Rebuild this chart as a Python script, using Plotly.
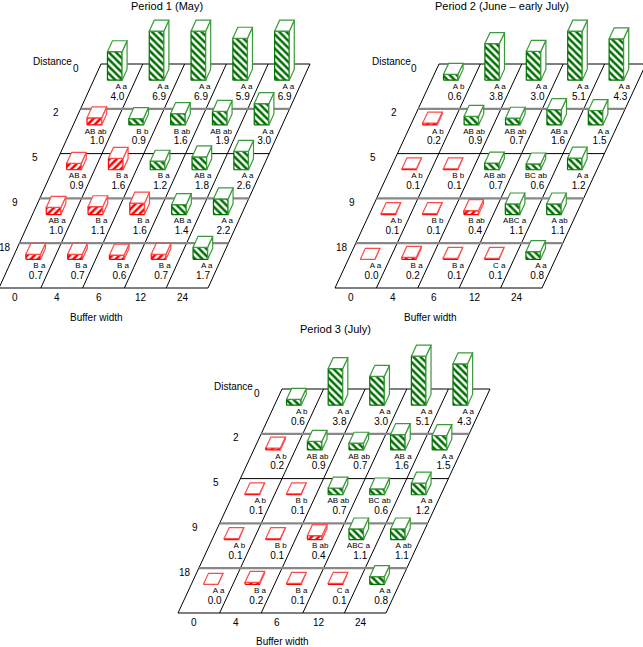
import plotly.graph_objects as go

# categories
buffer_width = [0, 4, 6, 12, 24]
distance = [0, 2, 5, 9, 18]

# Period 1 (May): rows = distance, cols = buffer width
p1_values = [
    [4.0, 6.9, 6.9, 5.9, 6.9],
    [1.0, 0.9, 1.6, 1.9, 3.0],
    [0.9, 1.6, 1.2, 1.8, 2.6],
    [1.0, 1.1, 1.6, 1.4, 2.2],
    [0.7, 0.7, 0.6, 0.7, 1.7],
]
p1_letters = [
    ["A a", "A a", "A a", "A a", "A a"],
    ["AB ab", "B b", "B ab", "AB ab", "A a"],
    ["AB a", "B a", "B a", "AB a", "A a"],
    ["AB a", "B a", "B a", "AB a", "A a"],
    ["B a", "B a", "B a", "B a", "A a"],
]

# Period 2 (June - early July)
p2_values = [
    [0.6, 3.8, 3.0, 5.1, 4.3],
    [0.2, 0.9, 0.7, 1.6, 1.5],
    [0.1, 0.1, 0.7, 0.6, 1.2],
    [0.1, 0.1, 0.4, 1.1, 1.1],
    [0.0, 0.2, 0.1, 0.1, 0.8],
]
p2_letters = [
    ["A b", "A a", "A a", "A a", "A a"],
    ["A b", "AB ab", "AB ab", "AB a", "A a"],
    ["A b", "B b", "AB ab", "BC ab", "A a"],
    ["A b", "B b", "B ab", "ABC a", "A ab"],
    ["A a", "B a", "B a", "C a", "A a"],
]

# Period 3 (July)
p3_values = [
    [0.6, 3.8, 3.0, 5.1, 4.3],
    [0.2, 0.9, 0.7, 1.6, 1.5],
    [0.1, 0.1, 0.7, 0.6, 1.2],
    [0.1, 0.1, 0.4, 1.1, 1.1],
    [0.0, 0.2, 0.1, 0.1, 0.8],
]
p3_letters = [
    ["A b", "A a", "A a", "A a", "A a"],
    ["A b", "AB ab", "AB ab", "AB a", "A a"],
    ["A b", "B b", "AB ab", "BC ab", "A a"],
    ["A b", "B b", "B ab", "ABC a", "A ab"],
    ["A a", "B a", "B a", "C a", "A a"],
]

FONT = "Liberation Sans, Arial, sans-serif"
ROW_H = 44.8
GREEN, GREEN_LT = "#007000", "#3a9a3a"
RED, RED_LT = "#ff0000", "#ff4a4a"

panels = [
    dict(title="Period 1 (May)", values=p1_values, letters=p1_letters,
         ox=101, oy=64, cw=41.8, sh=20.4, bx=0.33, title_xy=(167, 6), buf_xy=(96, 317)),
    dict(title="Period 2 (June – early July)", values=p2_values, letters=p2_letters,
         ox=439, oy=64, cw=41.4, sh=20.8, bx=0.29, title_xy=(502, 6), buf_xy=(430, 317)),
    dict(title="Period 3 (July)", values=p3_values, letters=p3_letters,
         ox=282, oy=389, cw=41.6, sh=20.8, bx=0.29, title_xy=(335, 329), buf_xy=(282, 641)),
]


def to_xy(p, X, D, Z=0.0):
    # oblique projection: X = buffer column, D = distance row (depth), Z = value
    return p["ox"] + X * p["cw"] - D * p["sh"], p["oy"] + D * ROW_H - Z * p["zs"]


def poly(p, pts):
    xs, ys = [], []
    for X, D, Z in pts + [pts[0]]:
        x, y = to_xy(p, X, D, Z)
        xs.append(x)
        ys.append(y)
    return xs, ys


fig = go.Figure()
annos = []

for p in panels:
    p["zs"] = 49.0 / max(max(r) for r in p["values"])

    # grid
    for grey in (False, True):
        xs, ys = [], []
        for D in range(6):
            if (D in (1, 3, 4)) != grey:
                continue
            for X, DD in ((0, D), (5, D)):
                x, y = to_xy(p, X, DD)
                xs.append(x)
                ys.append(y)
            xs.append(None)
            ys.append(None)
        if not grey:
            for X in range(6):
                for D in (0, 5):
                    x, y = to_xy(p, X, D)
                    xs.append(x)
                    ys.append(y)
                xs.append(None)
                ys.append(None)
        fig.add_trace(go.Scatter(x=xs, y=ys, mode="lines", hoverinfo="skip",
                                 line=dict(color="#888888" if grey else "black",
                                           width=2.2 if grey else 1)))

    # bars, back row first
    for r, dist in enumerate(distance):
        for c, bw in enumerate(buffer_width):
            v = p["values"][r][c]
            red = bw < dist
            col, col_lt = (RED, RED_LT) if red else (GREEN, GREEN_LT)
            x0 = c + p["bx"]
            x1 = x0 + 0.35
            df = r + 0.36
            db = df - 0.245
            front = [(x0, df, 0), (x1, df, 0), (x1, df, v), (x0, df, v)]
            top = [(x0, df, v), (x1, df, v), (x1, db, v), (x0, db, v)]
            side = [(x1, df, 0), (x1, db, 0), (x1, db, v), (x1, df, v)]
            xs, ys = poly(p, front)
            fig.add_trace(go.Scatter(
                x=xs, y=ys, mode="lines", fill="toself", fillcolor="white",
                fillpattern=dict(shape="/" if red else "\\", fgcolor=col, fgopacity=1,
                                 bgcolor="white", size=5, solidity=0.5),
                line=dict(color=col, width=1.2), hoverinfo="skip"))
            for face in (side, top):
                xs, ys = poly(p, face)
                fig.add_trace(go.Scatter(
                    x=xs, y=ys, mode="lines", fill="toself", fillcolor="white",
                    line=dict(color=col_lt, width=1.2), hoverinfo="skip"))

    # cell labels
    lx, ly, lt, vx, vy, vt = [], [], [], [], [], []
    for r in range(5):
        for c in range(5):
            x, y = to_xy(p, c + 0.87, r + 0.51)
            lx.append(x)
            ly.append(y)
            lt.append(p["letters"][r][c])
            x, y = to_xy(p, c + 0.92, r + 0.74)
            vx.append(x)
            vy.append(y)
            vt.append(f"{p['values'][r][c]:.1f}")
    fig.add_trace(go.Scatter(x=lx, y=ly, text=lt, mode="text", textposition="middle left",
                             textfont=dict(family=FONT, size=8, color="black"), hoverinfo="skip"))
    fig.add_trace(go.Scatter(x=vx, y=vy, text=vt, mode="text", textposition="middle left",
                             textfont=dict(family=FONT, size=10, color="black"), hoverinfo="skip"))

    # axis labels
    for r, dist in enumerate(distance):
        x, y = to_xy(p, -0.43 if dist < 10 else -0.1, r + 0.09)
        annos.append(dict(x=x, y=y, text=str(dist), xanchor="right", yanchor="middle"))
    for c, bw in enumerate(buffer_width):
        x, y = to_xy(p, c + 0.5, 5.22)
        annos.append(dict(x=x, y=y, text=str(bw), xanchor="center", yanchor="middle"))
    x, y = to_xy(p, -0.66, -0.045)
    annos.append(dict(x=x, y=y, text="Distance", xanchor="right", yanchor="middle"))
    annos.append(dict(x=p["buf_xy"][0], y=p["buf_xy"][1], text="Buffer width",
                      xanchor="center", yanchor="middle"))
    annos.append(dict(x=p["title_xy"][0], y=p["title_xy"][1], text=p["title"],
                      xanchor="center", yanchor="middle", font=dict(family=FONT, size=11, color="black")))

for a in annos:
    a.setdefault("font", dict(family=FONT, size=10, color="black"))
    a.update(xref="x", yref="y", showarrow=False)

fig.update_layout(
    width=643, height=647,
    margin=dict(l=0, r=0, t=0, b=0),
    paper_bgcolor="white", plot_bgcolor="white",
    showlegend=False, hovermode=False,
    xaxis=dict(range=[0, 643], visible=False, fixedrange=True),
    yaxis=dict(range=[647, 0], visible=False, fixedrange=True),
    annotations=annos,
)

# drop the page's default body margin so the figure sits at the window's corner
fig.write_html("out.html", config={"displayModeBar": False},
               post_script="document.body.style.margin='0px';")
